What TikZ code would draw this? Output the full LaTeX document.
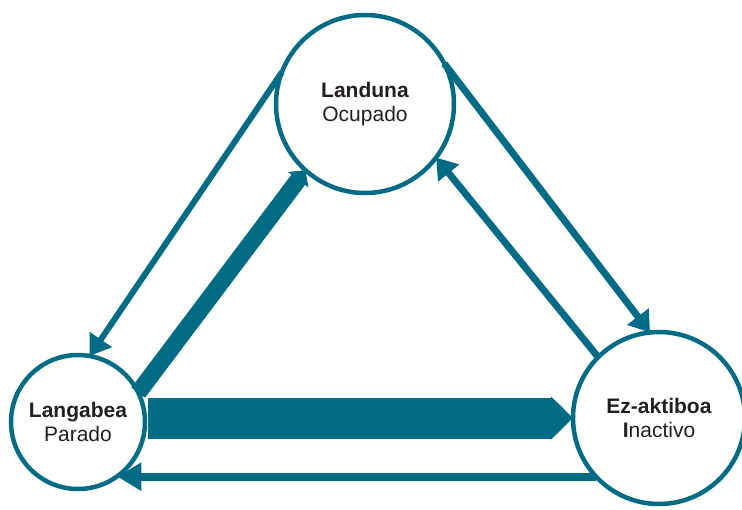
\documentclass[tikz,border=0pt]{standalone}
\usepackage{fontspec}
\setmainfont{Liberation Sans}
\usetikzlibrary{arrows.meta}
\definecolor{teal1}{RGB}{0,107,133}
\definecolor{txt}{RGB}{35,31,32}
\begin{document}
\begin{tikzpicture}[x=1pt,y=-1pt,
  state/.style={circle,draw=teal1,line width=4.5pt,fill=white,inner sep=0pt,outer sep=0pt,
    align=center,text=txt,font=\fontsize{21}{24.5}\selectfont},
  thin/.style={draw=teal1,line width=7pt,-{Triangle[length=20pt,width=26pt]}},
  thick/.style={draw=teal1,line width=17pt,-{Triangle[length=12pt,width=25pt]}},
  fat/.style={draw=teal1,line width=41pt,-{Triangle[length=22pt,width=42pt]}}]
\useasboundingbox (0,0) rectangle (742,509);
\node[state,minimum size=178pt] (L) at (365,104) {\textbf{Landuna}\\Ocupado};
\node[state,minimum size=134pt] (P) at (78,422) {\textbf{Langabea}\\Parado};
\node[state,minimum size=172pt] (E) at (659,418) {\textbf{Ez-aktiboa}\\{\bfseries I}nactivo};
% connectors
\draw[thin,line width=6pt] (L.159) -- (P.80);
\draw[thick] (P.26) -- (L.228);
\draw[thin] (L.27) -- (E.96);
\draw[thin] (E.135.5) -- (L.-37.6);
\draw[fat] ([xshift=3pt]P.east |- E.west) -- (E.west);
\draw[thin,line width=8pt,-{Triangle[length=24pt,width=27pt]}] (E.223.6) -- (P.-54 |- E.223.6);
\end{tikzpicture}
\end{document}
